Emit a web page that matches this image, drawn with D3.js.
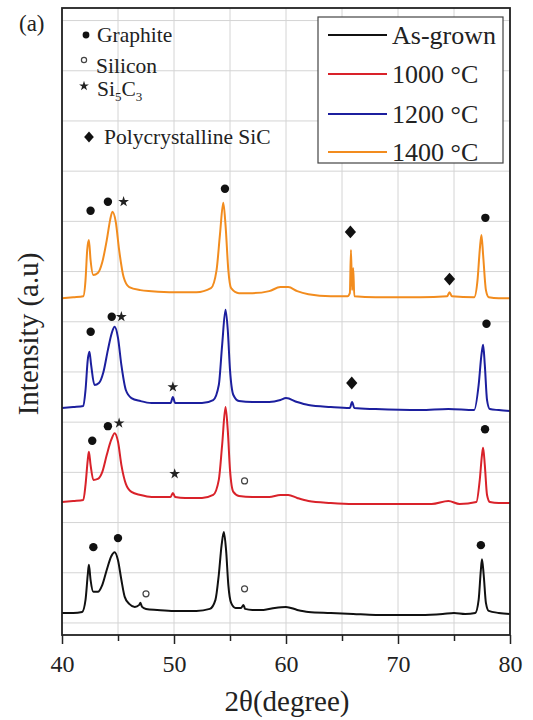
<!DOCTYPE html>
<html>
<head>
<meta charset="utf-8">
<script src="https://cdn.jsdelivr.net/npm/d3@7"></script>
<style>
  body { margin: 0; background: #fff; }
  svg { display: block; font-family: "Liberation Serif", "Times New Roman", serif; }
</style>
</head>
<body>
<svg id="chart" width="533" height="720"></svg>
<script>
// XRD patterns, 2θ (degree) vs stacked intensity (a.u.)
var asGrown = [[40,0.20],[41,0.20],[41.8,0.22],[42.1,0.46],[42.3,0.96],[42.4,1.16],[42.55,0.86],[42.8,0.62],[43.2,0.62],[43.6,0.76],[44.0,1.06],[44.4,1.33],[44.7,1.41],[45.0,1.25],[45.3,0.86],[45.6,0.52],[46.0,0.38],[46.5,0.32],[46.9,0.36],[47.0,0.40],[47.15,0.32],[47.5,0.28],[48.5,0.26],[50,0.24],[52,0.24],[53.2,0.28],[53.7,0.46],[54.0,0.96],[54.25,1.55],[54.45,1.81],[54.65,1.45],[54.85,0.76],[55.1,0.40],[55.5,0.30],[56.0,0.30],[56.2,0.36],[56.35,0.28],[57,0.26],[58,0.26],[59,0.30],[60,0.32],[61,0.26],[62,0.22],[64,0.20],[66,0.18],[68,0.16],[70,0.16],[72,0.16],[74,0.18],[75,0.20],[76,0.18],[76.9,0.20],[77.2,0.46],[77.4,1.06],[77.5,1.27],[77.65,0.96],[77.85,0.40],[78.1,0.24],[79,0.20],[80,0.18]];
var t1000 = [[40,2.41],[41,2.43],[41.9,2.45],[42.1,2.75],[42.3,3.25],[42.4,3.41],[42.55,3.15],[42.8,2.85],[43.2,2.87],[43.6,3.01],[44.0,3.35],[44.4,3.65],[44.7,3.78],[45.0,3.61],[45.3,3.15],[45.7,2.77],[46.2,2.61],[47,2.55],[48,2.51],[49.7,2.51],[49.9,2.59],[50.1,2.51],[51,2.49],[52.5,2.49],[53.5,2.55],[54.0,2.85],[54.3,3.55],[54.6,4.30],[54.8,3.84],[55.0,3.05],[55.3,2.61],[55.8,2.53],[57,2.51],[58.5,2.51],[59.5,2.55],[60.2,2.55],[61,2.49],[62,2.43],[64,2.39],[66,2.37],[70,2.37],[73,2.37],[74.5,2.43],[75.5,2.37],[77.0,2.41],[77.3,2.85],[77.5,3.35],[77.6,3.49],[77.75,3.15],[77.95,2.55],[78.2,2.41],[79,2.39],[80,2.39]];
var t1200 = [[40,4.28],[41,4.30],[41.9,4.32],[42.1,4.64],[42.3,5.24],[42.45,5.40],[42.6,5.14],[42.9,4.74],[43.3,4.78],[43.7,5.00],[44.1,5.44],[44.45,5.78],[44.7,5.90],[45.0,5.68],[45.3,5.14],[45.7,4.64],[46.2,4.48],[47,4.42],[48,4.38],[49.7,4.38],[49.9,4.50],[50.1,4.38],[51,4.38],[52.5,4.38],[53.5,4.44],[54.0,4.74],[54.3,5.54],[54.6,6.24],[54.8,5.84],[55.0,5.04],[55.3,4.54],[55.8,4.42],[57,4.40],[58.5,4.40],[59.5,4.44],[60.0,4.48],[61,4.40],[62,4.34],[64,4.30],[65.7,4.28],[65.9,4.40],[66.1,4.28],[68,4.26],[72,4.24],[74.5,4.26],[76.8,4.24],[77.2,4.74],[77.45,5.34],[77.6,5.54],[77.75,5.14],[77.95,4.44],[78.2,4.26],[79,4.24],[80,4.22]];
var t1400 = [[40,6.47],[41,6.49],[41.9,6.51],[42.1,6.83],[42.25,7.43],[42.4,7.63],[42.55,7.23],[42.8,6.93],[43.2,6.97],[43.6,7.19],[44.0,7.63],[44.3,8.03],[44.5,8.19],[44.8,7.99],[45.1,7.43],[45.5,6.89],[46.0,6.69],[47,6.63],[48,6.61],[50,6.59],[52,6.59],[53.3,6.67],[53.8,7.03],[54.1,7.73],[54.4,8.37],[54.6,7.93],[54.85,7.03],[55.1,6.67],[55.8,6.57],[57,6.57],[58.5,6.61],[59.5,6.69],[60.2,6.69],[61,6.61],[62,6.55],[64,6.51],[65.5,6.51],[65.7,6.57],[65.8,7.43],[65.9,6.63],[66.0,7.07],[66.1,6.51],[68,6.49],[72,6.49],[74.4,6.51],[74.6,6.59],[74.8,6.51],[76.8,6.49],[77.1,6.83],[77.3,7.43],[77.45,7.73],[77.6,7.33],[77.85,6.63],[78.1,6.49],[79,6.47],[80,6.47]];

var seriesNames = ["As-grown", "1000 °C", "1200 °C", "1400 °C"];
var seriesColors = ["#111111", "#d9222a", "#1c1f9e", "#f28c1e"];
var seriesData = [asGrown, t1000, t1200, t1400];

// phase labels: g = graphite, s = silicon, c = Si5C3, p = polycrystalline SiC
var peakMarks = [
  ["g",42.55,8.21],["g",44.1,8.39],["c",45.5,8.39],["g",54.55,8.65],["p",65.75,7.79],["p",74.6,6.85],["g",77.8,8.07],
  ["g",42.56,5.80],["g",44.44,6.10],["c",45.3,6.10],["c",49.9,4.70],["p",65.87,4.78],["g",77.9,5.96],
  ["g",42.7,3.63],["g",44.1,3.92],["c",45.1,3.98],["c",50.06,2.97],["s",56.3,2.83],["g",77.77,3.86],
  ["g",42.8,1.51],["g",45.0,1.69],["s",47.5,0.58],["s",56.3,0.68],["g",77.4,1.55]
];

var xTicks = [40, 50, 60, 70, 80];
var xMinor = [45, 55, 65, 75];
var yGrid = [0,1,2,3,4,5,6,7,8,9,10,11,12];

(function() {
var svg = d3.select("#chart");
var mLeft = 62, mRight = 510, mTop = 8, mBottom = 635;

var x = d3.scaleLinear().domain([40, 80]).range([mLeft, mRight]);
var y = d3.scaleLinear().domain([-0.24, 12.25]).range([mBottom, mTop]);

// grid
svg.append("g").selectAll("line").data(yGrid).enter().append("line")
  .attr("x1", mLeft).attr("x2", mRight)
  .attr("y1", function(d) { return y(d); }).attr("y2", function(d) { return y(d); })
  .attr("stroke", "#d4d4d4").attr("stroke-width", 1);
svg.append("g").selectAll("line").data(xTicks.concat(xMinor)).enter().append("line")
  .attr("y1", mTop).attr("y2", mBottom)
  .attr("x1", function(d) { return x(d); }).attr("x2", function(d) { return x(d); })
  .attr("stroke", "#d4d4d4").attr("stroke-width", 1);

// x axis
var xAxis = svg.append("g").attr("transform", "translate(0," + mBottom + ")")
  .call(d3.axisBottom(x).tickValues(xTicks).tickSize(9).tickPadding(11));
xAxis.select(".domain").remove();
xAxis.selectAll("line").attr("stroke", "#222").attr("stroke-width", 1.5);
xAxis.selectAll("text").attr("font-family", "Liberation Serif").attr("font-size", 24).attr("fill", "#222");
svg.append("g").attr("transform", "translate(0," + mBottom + ")")
  .call(d3.axisBottom(x).tickValues(xMinor).tickSize(6).tickFormat(""))
  .call(function(g) { g.select(".domain").remove(); g.selectAll("line").attr("stroke", "#222").attr("stroke-width", 1.5); });

// curves
var line = d3.line()
  .x(function(d) { return x(d[0]); })
  .y(function(d) { return y(d[1]); })
  .curve(d3.curveMonotoneX);
seriesData.forEach(function(s, i) {
  svg.append("path").datum(s)
    .attr("d", line)
    .attr("fill", "none")
    .attr("stroke", seriesColors[i])
    .attr("stroke-width", 2)
    .attr("stroke-linejoin", "round");
});

// phase markers
function drawMark(g, kind, px, py, big) {
  if (kind == "g") {
    g.append("circle").attr("cx", px).attr("cy", py).attr("r", big ? 4.2 : 3.4).attr("fill", "#111");
  } else if (kind == "s") {
    g.append("circle").attr("cx", px).attr("cy", py).attr("r", big ? 3 : 2.6)
      .attr("fill", "#fff").attr("stroke", "#444").attr("stroke-width", 1.2);
  } else if (kind == "c") {
    g.append("path").attr("d", d3.symbol().type(d3.symbolStar).size(big ? 36 : 30)())
      .attr("transform", "translate(" + px + "," + py + ")").attr("fill", "#222");
  } else {
    g.append("path").attr("d", d3.symbol().type(d3.symbolDiamond2).size(big ? 80 : 60)())
      .attr("transform", "translate(" + px + "," + py + ") scale(1,1.15)").attr("fill", "#111");
  }
}
var markG = svg.append("g");
peakMarks.forEach(function(m) { drawMark(markG, m[0], x(m[1]), y(m[2]), true); });

// frame
svg.append("rect").attr("x", mLeft).attr("y", mTop).attr("width", mRight - mLeft).attr("height", mBottom - mTop)
  .attr("fill", "none").attr("stroke", "#222").attr("stroke-width", 1.8);

// phase key (top left)
var keyG = svg.append("g").attr("font-family", "Liberation Serif").attr("fill", "#222").attr("font-size", 21.5);
drawMark(keyG, "g", 86, 35, false);
keyG.append("text").attr("x", 97).attr("y", 42).text("Graphite");
drawMark(keyG, "s", 84, 60, false);
keyG.append("text").attr("x", 96).attr("y", 73).text("Silicon");
drawMark(keyG, "c", 84, 86, false);
var si = keyG.append("text").attr("x", 97).attr("y", 96);
si.append("tspan").text("Si");
si.append("tspan").attr("font-size", 13).attr("dy", 5).text("5");
si.append("tspan").attr("dy", -5).text("C");
si.append("tspan").attr("font-size", 13).attr("dy", 5).text("3");
drawMark(keyG, "p", 89, 137, false);
keyG.append("text").attr("x", 104).attr("y", 144).text("Polycrystalline SiC");

// series legend (top right)
var legG = svg.append("g");
legG.append("rect").attr("x", 318).attr("y", 17).attr("width", 185).attr("height", 146)
  .attr("fill", "#fff").attr("stroke", "#444").attr("stroke-width", 1.2);
var legY = [35, 74, 114, 152];
seriesNames.forEach(function(n, i) {
  legG.append("line").attr("x1", 328).attr("x2", 387).attr("y1", legY[i]).attr("y2", legY[i])
    .attr("stroke", seriesColors[i]).attr("stroke-width", 2);
  legG.append("text").attr("x", 392).attr("y", legY[i] + 9)
    .attr("font-family", "Liberation Serif").attr("font-size", 26).attr("fill", "#222").text(n);
});

// titles
svg.append("text").attr("x", 287).attr("y", 711).attr("text-anchor", "middle")
  .attr("font-family", "Liberation Serif").attr("font-size", 29).attr("fill", "#222").text("2θ(degree)");
svg.append("text").attr("transform", "translate(38,334) rotate(-90)").attr("text-anchor", "middle")
  .attr("font-family", "Liberation Serif").attr("font-size", 29).attr("fill", "#222").text("Intensity (a.u)");
svg.append("text").attr("x", 19).attr("y", 31)
  .attr("font-family", "Liberation Serif").attr("font-size", 23).attr("fill", "#222").text("(a)");
})();
</script>
</body>
</html>
